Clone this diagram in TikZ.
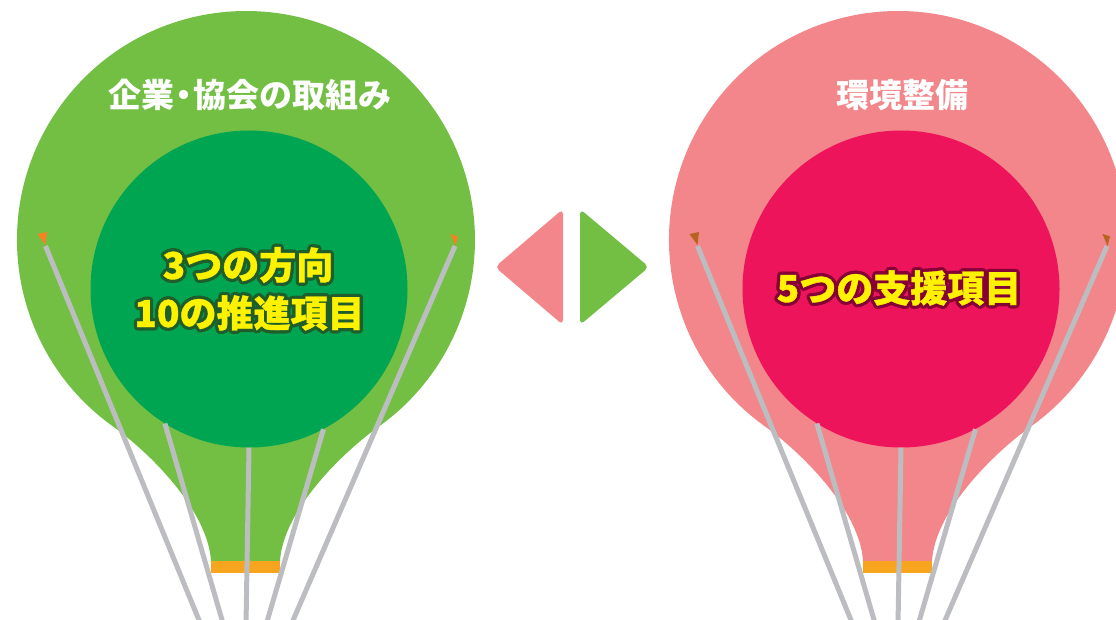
\documentclass[tikz,border=0pt]{standalone}
\usepackage{fontspec}
\newfontfamily\jp{Noto Sans CJK JP}
\newfontfamily\jpheavy{Noto Sans CJK JP}[FakeBold=1]
\usetikzlibrary{calc}

\definecolor{leafgreen}{HTML}{72BF44}
\definecolor{deepgreen}{HTML}{00A551}
\definecolor{rosepink}{HTML}{F2868A}
\definecolor{crimson}{HTML}{ED145B}
\definecolor{bandorange}{HTML}{F7A51E}
\definecolor{ropegray}{HTML}{BCBDC0}
\definecolor{tiporange}{HTML}{F58220}
\definecolor{tipbrown}{HTML}{B5651D}
\definecolor{labelyellow}{HTML}{FFF200}
\definecolor{edgegreen}{HTML}{1F5E2B}
\definecolor{edgemaroon}{HTML}{860038}

\tikzset{
  rope/.style={draw=ropegray, line width=5pt},
  band/.style={fill=bandorange},
  titletext/.style={font=\jp\bfseries\fontsize{33}{40}\selectfont, text=white, anchor=base, inner sep=0pt},
  coretext/.style={font=\jpheavy\bfseries\fontsize{37}{44}\selectfont, anchor=base, inner sep=0pt, align=center},
  pointer/.style={rounded corners=5pt},
}

% yellow label with a dark rim: shifted copies underneath, the label on top
\newcommand\rimlabel[5]{%
  \foreach \k in {0,...,15}{
    \node[coretext, text=#4, name=#1-rim\k] at ($(#2,#3)+(\k*22.5:3.2pt)$) {#5};
  }
  \foreach \k in {0,...,7}{
    \node[coretext, text=#4, name=#1-mid\k] at ($(#2,#3)+(\k*45+22.5:1.7pt)$) {#5};
  }
  \node[coretext, text=labelyellow, name=#1] at (#2,#3) {#5};
}

% one balloon: envelope, basket band, core disc, ropes and rope tips
\newcommand\balloon[4]{%
  \fill[#2] (211,561) .. controls (208,510) and (148.5,451.5) .. (111.7,425.5)
     arc[start angle=234.1, end angle=-54.1, radius=229pt]
     .. controls (343.5,451.5) and (283,510) .. (280,561) -- cycle;
  \fill[band] (211,561) rectangle (280,573);
  \node[circle, fill=#3, minimum size=317pt, inner sep=0pt] (#1-core) at (249,289) {};
  \coordinate (#1-top1) at (45.5,246);
  \coordinate (#1-top5) at (455,246);
  \coordinate (#1-end1) at (201,625);
  \coordinate (#1-end2) at (223.5,625);
  \coordinate (#1-end3) at (246,625);
  \coordinate (#1-end4) at (266,625);
  \coordinate (#1-end5) at (291,625);
  \draw[rope] (#1-top1) -- (#1-end1);
  \draw[rope] (#1-core.238) -- (#1-end2);
  \draw[rope] (#1-core.270) -- (#1-end3);
  \draw[rope] (#1-core.298) -- (#1-end4);
  \draw[rope] (#1-top5) -- (#1-end5);
  \fill[#4] (37.5,234) -- (47,232) -- (45.5,245) -- cycle;
  \fill[#4] (450.5,234) -- (458,236.5) -- (455.5,246) -- cycle;
}

\begin{document}
\begin{tikzpicture}[x=1pt, y=-1pt]
  \useasboundingbox (0,0) rectangle (1116,620);
  \clip (0,0) rectangle (1116,620);

  % left balloon
  \balloon{L}{leafgreen}{deepgreen}{tiporange}
  \node[titletext] (L-title) at (250,107.5) {企業\kern-0.22em・\kern-0.22em協会の取組み};
  \rimlabel{L-line1}{248}{279}{edgegreen}{3つの方向}
  \rimlabel{L-line2}{249.5}{327}{edgegreen}{10の推進項目}

  % right balloon
  \begin{scope}[xshift=652pt]
    \balloon{R}{rosepink}{crimson}{tipbrown}
    \node[titletext] (R-title) at (250.5,107.5) {環境整備};
    \rimlabel{R-line1}{247}{302}{edgemaroon}{5つの支援項目}
  \end{scope}

  % paired pointers between the balloons
  \fill[rosepink, pointer] (495,267) -- (563,209) -- (563,325) -- cycle;
  \fill[leafgreen, pointer] (580,209) -- (649,267) -- (580,325) -- cycle;
\end{tikzpicture}
\end{document}
